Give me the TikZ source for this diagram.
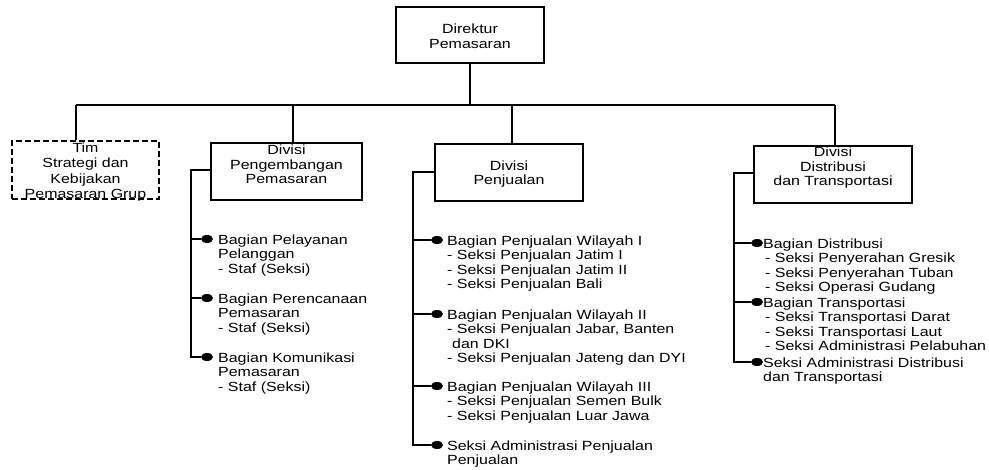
\documentclass[tikz,border=0pt]{standalone}
\usepackage{fontspec}
\setmainfont{Liberation Sans}[FakeStretch=1.2]
\usetikzlibrary{shapes.geometric}
\begin{document}
\begin{tikzpicture}[x=1pt,y=-1pt,
  ln/.style={line width=1.2pt},
  box/.style={draw, line width=1.2pt, inner sep=0pt},
  dbox/.style={box, dash pattern=on 6pt off 3pt},
  lbl/.style={align=center, font=\fontsize{13.3}{14.5}\selectfont, inner sep=0pt},
  item/.style={align=left, anchor=north west, font=\fontsize{13.3}{14.5}\selectfont, inner sep=0pt},
  dot/.style={ellipse, fill=black, minimum width=12pt, minimum height=8pt, inner sep=0pt}]
\useasboundingbox (0,0) rectangle (989,470);

% boxes
\node[box, minimum width=148pt, minimum height=56pt] (dir) at (470,35) {};
\node[lbl] (dirt) at (470,36) {Direktur\\Pemasaran};

\node[dbox, minimum width=147pt, minimum height=58pt] (tim) at (85.5,170) {};
\node[lbl, font=\fontsize{13.3}{15.2}\selectfont] (timt) at (85.5,172) {Tim\\Strategi dan\\Kebijakan\\Pemasaran Grup};

\node[box, minimum width=151pt, minimum height=57pt] (pp) at (286.5,171.5) {};
\node[lbl] (ppt) at (286.5,164.5) {Divisi\\Pengembangan\\Pemasaran};

\node[box, minimum width=148pt, minimum height=57pt] (pj) at (509,172.5) {};
\node[lbl] (pjt) at (509,174) {Divisi\\Penjualan};

\node[box, minimum width=158pt, minimum height=57pt] (pd) at (833,174.5) {};
\node[lbl] (pdt) at (833,168) {Divisi\\Distribusi\\dan Transportasi};

% bus
\coordinate (busL) at (76,105);
\coordinate (busR) at (835,105);
\coordinate (bp) at (293,105);
\coordinate (bj) at (512,105);
\draw[ln] (dir.south) -- (dir.south |- busL);
\draw[ln] (busL) -- (busR);
\draw[ln] (busL) -- (busL |- tim.north);
\draw[ln] (bp) -- (bp |- pp.north);
\draw[ln] (bj) -- (bj |- pj.north);
\draw[ln] (busR) -- (busR |- pd.north);

% Pengembangan items
\node[dot] (p1) at (207,239) {};
\node[dot] (p2) at (207,298) {};
\node[dot] (p3) at (207,357) {};
\coordinate (tp) at (191,170);
\draw[ln] (pp.west |- tp) -- (tp) |- (p3);
\draw[ln] (p1) -- (p1 -| tp);
\draw[ln] (p2) -- (p2 -| tp);
\node[item] (p1t) at (218,234.2) {Bagian Pelayanan\\Pelanggan\\- Staf (Seksi)};
\node[item] (p2t) at (218,293.2) {Bagian Perencanaan\\Pemasaran\\- Staf (Seksi)};
\node[item] (p3t) at (218,352.2) {Bagian Komunikasi\\Pemasaran\\- Staf (Seksi)};

% Penjualan items
\node[dot] (j1) at (437,240) {};
\node[dot] (j2) at (437,314) {};
\node[dot] (j3) at (437,386) {};
\node[dot] (j4) at (437,445) {};
\coordinate (tj) at (413,172);
\draw[ln] (pj.west |- tj) -- (tj) |- (j4);
\draw[ln] (j1) -- (j1 -| tj);
\draw[ln] (j2) -- (j2 -| tj);
\draw[ln] (j3) -- (j3 -| tj);
\node[item] (j1t) at (447,235.2) {Bagian Penjualan Wilayah I\\- Seksi Penjualan Jatim I\\- Seksi Penjualan Jatim II\\- Seksi Penjualan Bali};
\node[item] (j2t) at (447,309.2) {Bagian Penjualan Wilayah II\\- Seksi Penjualan Jabar, Banten\\\hspace*{5pt}dan DKI\\- Seksi Penjualan Jateng dan DYI};
\node[item] (j3t) at (447,381.2) {Bagian Penjualan Wilayah III\\- Seksi Penjualan Semen Bulk\\- Seksi Penjualan Luar Jawa};
\node[item] (j4t) at (447,440.2) {Seksi Administrasi Penjualan\\Penjualan};

% Distribusi items
\node[dot] (d1) at (757,243) {};
\node[dot] (d2) at (757,302) {};
\node[dot] (d3) at (757,362) {};
\coordinate (td) at (734,173);
\draw[ln] (pd.west |- td) -- (td) |- (d3);
\draw[ln] (d1) -- (d1 -| td);
\draw[ln] (d2) -- (d2 -| td);
\node[item] (d1t) at (763,238.2) {Bagian Distribusi\\\hspace*{2pt}- Seksi Penyerahan Gresik\\\hspace*{2pt}- Seksi Penyerahan Tuban\\\hspace*{2pt}- Seksi Operasi Gudang};
\node[item] (d2t) at (763,297.2) {Bagian Transportasi\\\hspace*{2pt}- Seksi Transportasi Darat\\\hspace*{2pt}- Seksi Transportasi Laut\\\hspace*{2pt}- Seksi Administrasi Pelabuhan};
\node[item] (d3t) at (763,357.2) {Seksi Administrasi Distribusi\\dan Transportasi};
\end{tikzpicture}
\end{document}
